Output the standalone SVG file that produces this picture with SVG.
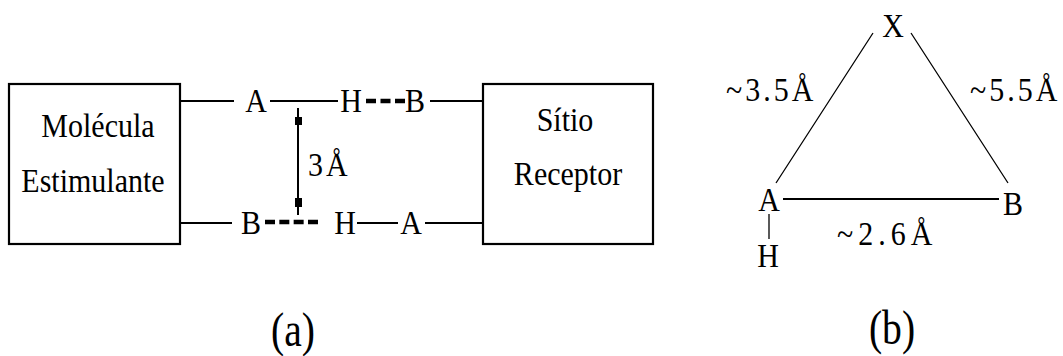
<svg xmlns="http://www.w3.org/2000/svg" width="1063" height="356" viewBox="0 0 1063 356">
<style>
text{font-family:'Liberation Serif',serif;font-size:30px;fill:#000;text-anchor:middle}
.s{text-anchor:start}
.cap{font-size:44px}
.sp{letter-spacing:3px}
.sp2{letter-spacing:5px}
.box{fill:#fff;stroke:#000;stroke-width:2.2}
.ln{stroke:#000;stroke-width:2;fill:none}
.thin{stroke:#000;stroke-width:1.3;fill:none}
.dash{stroke:#000;stroke-width:4.5;fill:none}
</style>
<rect width="1063" height="356" fill="#fff"/>
<g id="connectors">
  <path class="ln" d="M180,101H234M270,101H338M430,101H483"/>
  <path class="ln" d="M180,223H232M357,223H398M425,223H483"/>
  <path class="dash" d="M366,101H405" stroke-dasharray="10 4.5"/>
  <path class="dash" d="M265,222H318" stroke-dasharray="10 4.33"/>
  <path class="ln" d="M298,108V215"/>
  <rect x="295" y="117" width="7" height="8" fill="#000"/>
  <rect x="295" y="198" width="7" height="9" fill="#000"/>
  <path class="thin" d="M873,33L776,183M911,33L1008,183"/>
  <path class="ln" d="M783,199H999"/>
  <path class="thin" d="M769,214V239"/>
</g>
<g id="molecula">
  <rect class="box" x="9" y="84" width="171" height="160"/>
  <text transform="translate(98,137) scale(1,1.12)">Molécula</text>
  <text transform="translate(93,192) scale(1,1.12)">Estimulante</text>
</g>
<g id="sitio">
  <rect class="box" x="483" y="84" width="170" height="160"/>
  <text transform="translate(565,131) scale(1,1.12)">Sítio</text>
  <text transform="translate(568,185) scale(1,1.12)">Receptor</text>
</g>
<g id="a-top-A"><text transform="translate(256,112) scale(1,1.12)">A</text></g>
<g id="a-top-H"><text transform="translate(351,112) scale(1,1.12)">H</text></g>
<g id="a-top-B"><text transform="translate(415,112) scale(1,1.12)">B</text></g>
<g id="a-bot-B"><text transform="translate(251,234) scale(1,1.12)">B</text></g>
<g id="a-bot-H"><text transform="translate(345,234) scale(1,1.12)">H</text></g>
<g id="a-bot-A"><text transform="translate(411,234) scale(1,1.12)">A</text></g>
<g id="dist-3A"><text class="s sp" transform="translate(308,176) scale(1,1.12)">3Å</text></g>
<g id="b-X"><text transform="translate(893,37) scale(1,1.12)">X</text></g>
<g id="b-A"><text transform="translate(769,211) scale(1,1.12)">A</text></g>
<g id="b-B"><text transform="translate(1013,215) scale(1,1.12)">B</text></g>
<g id="b-H"><text transform="translate(768,267) scale(1,1.12)">H</text></g>
<g id="lbl-35"><text class="s sp" transform="translate(726,101) scale(1,1.12)">~3.5Å</text></g>
<g id="lbl-55"><text class="s sp" transform="translate(970,101) scale(1,1.12)">~5.5Å</text></g>
<g id="lbl-26"><text class="s sp2" transform="translate(837,245) scale(1,1.12)">~2.6Å</text></g>
<g id="cap-a"><text class="cap" transform="translate(293,346) scale(0.9,1.1)">(a)</text></g>
<g id="cap-b"><text class="cap" transform="translate(892,344) scale(0.9,1.1)">(b)</text></g>
</svg>
